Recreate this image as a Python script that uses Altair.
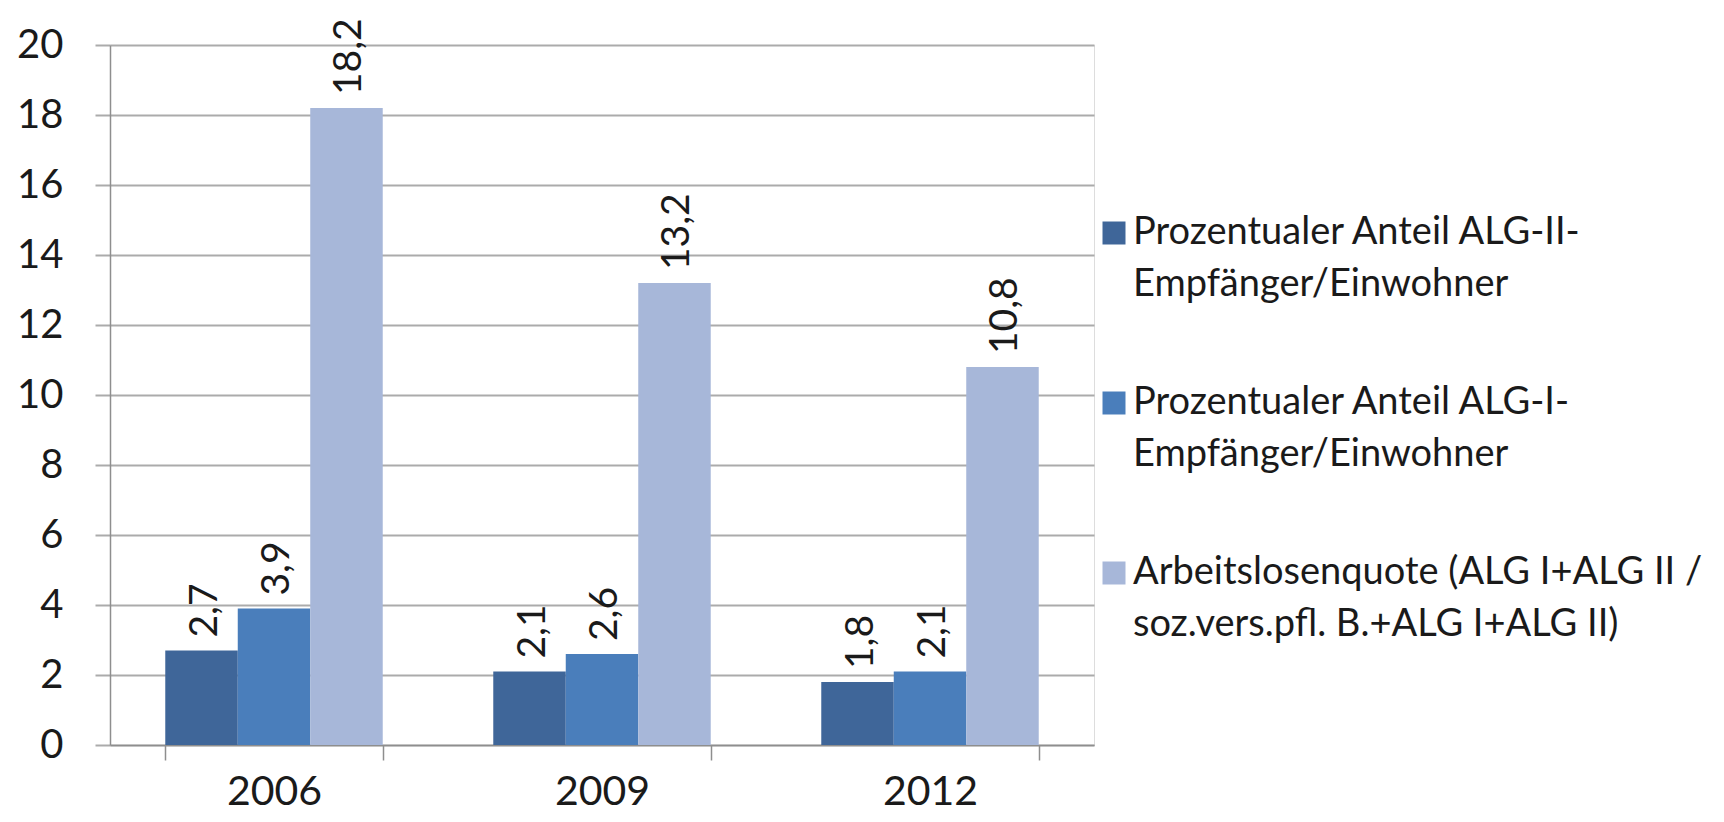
import altair as alt
import pandas as pd

# ---- data ----
years = ["2006", "2009", "2012"]
series = [
    "Prozentualer Anteil ALG-II-Empfänger/Einwohner",
    "Prozentualer Anteil ALG-I-Empfänger/Einwohner",
    "Arbeitslosenquote (ALG I+ALG II / soz.vers.pfl. B.+ALG I+ALG II)",
]
legend_lines = [
    ["Prozentualer Anteil ALG-II-", "Empfänger/Einwohner"],
    ["Prozentualer Anteil ALG-I-", "Empfänger/Einwohner"],
    ["Arbeitslosenquote (ALG I+ALG II /", "soz.vers.pfl. B.+ALG I+ALG II)"],
]
alg2_share = [2.7, 2.1, 1.8]
alg1_share = [3.9, 2.6, 2.1]
unemployment_rate = [18.2, 13.2, 10.8]
y_ticks = [0, 2, 4, 6, 8, 10, 12, 14, 16, 18, 20]
colors = ["#3F6699", "#4A7EBB", "#A7B7D9"]

rows = []
for name, vals in zip(series, [alg2_share, alg1_share, unemployment_rate]):
    for yr, v in zip(years, vals):
        rows.append({"year": yr, "series": name, "value": v})
df = pd.DataFrame(rows)

label_expr = " : ".join(
    f"datum.label === '{s}' ? ['{a}', '{b}']" for s, (a, b) in zip(series, legend_lines)
) + " : datum.label"

FONT = "Lato"
TXT = "#1a1a1a"
GRID = "#ABABAB"
AXIS = "#8E8E8E"

base = alt.Chart(df).encode(
    x=alt.X(
        "year:N",
        sort=years,
        title=None,
        scale=alt.Scale(paddingInner=0.337, paddingOuter=0.1685),
        axis=alt.Axis(
            labelAngle=0,
            labelFont=FONT,
            labelFontSize=41,
            labelColor=TXT,
            labelPadding=12,
            tickBand="extent",
            tickSize=15,
            tickColor=AXIS,
            tickWidth=1.5,
            domainColor=AXIS,
            domainWidth=1.5,
            grid=False,
        ),
    ),
    xOffset=alt.XOffset("series:N", sort=series, scale=alt.Scale(paddingInner=0, paddingOuter=0)),
    y=alt.Y(
        "value:Q",
        title=None,
        scale=alt.Scale(domain=[0, 20], nice=False),
        axis=alt.Axis(
            values=y_ticks,
            labelFont=FONT,
            labelFontSize=40,
            labelColor=TXT,
            labelPadding=32,
            tickSize=15,
            tickColor=GRID,
            tickWidth=2,
            domainColor=AXIS,
            domainWidth=1.5,
            grid=True,
            gridColor=GRID,
            gridWidth=2,
        ),
    ),
)

bars = base.mark_bar().encode(
    color=alt.Color(
        "series:N",
        sort=series,
        scale=alt.Scale(domain=series, range=colors),
        legend=alt.Legend(
            title=None,
            orient="none",
            legendX=985,
            legendY=169,
            padding=0,
            symbolType="square",
            symbolSize=529,
            symbolStrokeWidth=0,
            symbolOpacity=1,
            labelFont=FONT,
            labelFontSize=38,
            labelColor=TXT,
            labelLimit=800,
            labelOffset=0,
            rowPadding=80,
            labelExpr=label_expr,
        ),
    )
)

labels = base.mark_text(
    angle=270, align="left", baseline="middle", dx=13, dy=3,
    font=FONT, fontSize=39, color=TXT,
).transform_calculate(
    label="replace(format(datum.value, '.1f'), '.', ',')"
).encode(text="label:N")

chart = (
    alt.layer(bars, labels)
    .properties(
        width=984,
        height=700,
        autosize=alt.AutoSizeParams(type="none"),
        padding={"left": 102, "top": 37, "right": 622, "bottom": 69},
        background="white",
    )
    .configure_view(stroke=None)
    .configure(font=FONT, style={"guide-label": {"lineHeight": 52}})
)

chart.save("out.html", embed_options={"renderer": "svg", "actions": False})
